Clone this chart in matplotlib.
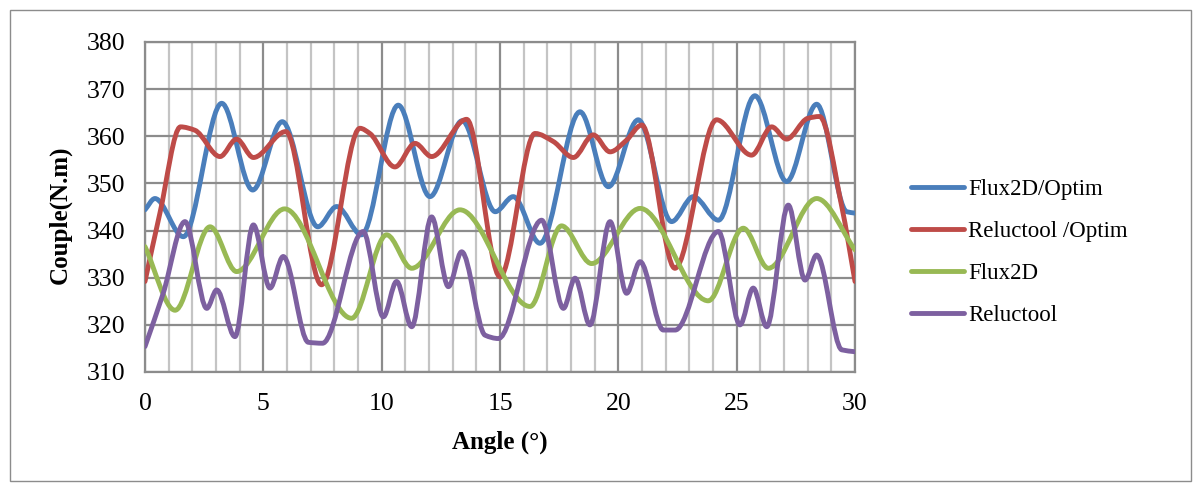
"""
Couple en fonction de l'angle : comparaison Flux2D / Reluctool.
"""
import numpy as np
import matplotlib
matplotlib.use('Agg')
from matplotlib import pyplot as plt
from matplotlib.path import Path
from matplotlib.patches import PathPatch, Rectangle
from matplotlib.lines import Line2D
from matplotlib.ticker import MultipleLocator

# Données (angle en degrés, couple en N.m)
flux_opt_x = [0, 0.42, 1.62, 3.24, 4.55, 5.8, 7.3, 8.1, 9.15, 10.7, 12.04, 13.4, 14.8, 15.56,
              16.69, 18.38, 19.58, 20.84, 22.25, 23.17, 24.23, 25.77, 27.11, 28.38, 29.65, 30]
flux_opt_y = [344.4, 346.8, 338.7, 367.0, 348.6, 363.1, 340.8, 345.1, 339.1, 366.6, 347.2, 363.3,
              344.0, 347.2, 337.3, 365.2, 349.3, 363.5, 341.9, 347.2, 342.2, 368.6, 350.4, 366.8,
              344.0, 343.7]

reluc_opt_x = [0, 0.63, 1.5, 2.1, 3.17, 3.87, 4.58, 5.95, 7.46, 9.08, 9.5, 10.56, 11.41, 12.11,
               13.59, 15.0, 16.48, 17.25, 18.1, 18.94, 19.65, 20.35, 20.99, 22.39, 24.15, 25.63,
               26.48, 27.11, 28.0, 28.5, 29.44, 30]
reluc_opt_y = [329.2, 343.7, 362.0, 361.3, 355.7, 359.4, 355.5, 361.0, 328.5, 361.7, 360.6, 353.5,
               358.5, 355.7, 363.6, 330.2, 360.6, 358.9, 355.5, 360.3, 356.7, 359.2, 362.4, 332.0,
               363.5, 356.0, 362.0, 359.4, 363.8, 364.2, 345.1, 329.2]

flux_x = [0, 1.27, 2.75, 3.87, 5.9, 8.73, 10.21, 11.27, 13.31, 16.27, 17.6, 18.87, 20.92, 23.8,
          25.28, 26.34, 28.38, 30]
flux_y = [336.6, 323.1, 340.8, 331.3, 344.6, 321.4, 339.1, 332.0, 344.4, 323.9, 341.0, 333.0,
          344.7, 325.1, 340.5, 332.0, 346.8, 335.9]

reluc_x = [0, 0.77, 1.69, 2.61, 3.03, 3.8, 4.58, 5.28, 5.84, 6.9, 7.5, 9.22, 10.07, 10.63, 11.27,
           12.11, 12.82, 13.38, 14.37, 14.93, 16.76, 17.68, 18.17, 18.8, 19.65, 20.35, 20.92,
           21.9, 22.4, 24.23, 25.14, 25.7, 26.27, 27.18, 27.89, 28.38, 29.44, 30]
reluc_y = [315.4, 326.7, 341.9, 323.5, 327.4, 317.5, 341.2, 327.8, 334.5, 316.3, 316.1, 339.8,
           321.7, 329.2, 319.6, 342.9, 328.1, 335.5, 317.8, 317.1, 342.2, 323.5, 329.9, 320.0,
           341.9, 326.7, 333.4, 318.9, 318.9, 339.8, 320.0, 327.8, 319.6, 345.4, 329.5, 334.8,
           314.7, 314.3]

series = [
    ('Flux2D/Optim', flux_opt_x, flux_opt_y, '#4a7ebb'),
    ('Reluctool /Optim', reluc_opt_x, reluc_opt_y, '#be4b48'),
    ('Flux2D', flux_x, flux_y, '#98b954'),
    ('Reluctool', reluc_x, reluc_y, '#7d60a0'),
]


def smooth_path(x, y):
    """
    Courbe lissée (Bézier cubique, tangentes monotones) passant par les points.
    """
    x = np.asarray(x, float)
    y = np.asarray(y, float)
    h = np.diff(x)
    d = np.diff(y) / h
    m = np.zeros_like(y)
    for i in range(1, len(y) - 1):
        if d[i - 1] * d[i] > 0:
            w1 = 2 * h[i] + h[i - 1]
            w2 = h[i] + 2 * h[i - 1]
            m[i] = (w1 + w2) / (w1 / d[i - 1] + w2 / d[i])
    m[0] = d[0]
    m[-1] = d[-1]
    verts = [(x[0], y[0])]
    codes = [Path.MOVETO]
    for i in range(len(x) - 1):
        verts.append((x[i] + h[i] / 3, y[i] + m[i] * h[i] / 3))
        verts.append((x[i + 1] - h[i] / 3, y[i + 1] - m[i + 1] * h[i] / 3))
        verts.append((x[i + 1], y[i + 1]))
        codes += [Path.CURVE4] * 3
    return Path(verts, codes)


plt.rcParams['font.family'] = ['Liberation Serif', 'DejaVu Serif']

fig = plt.figure(figsize=(12.04, 4.91), dpi=100)
ax = fig.add_axes([145 / 1204, 1 - 372 / 491, 710 / 1204, 330 / 491])

# cadre extérieur
fig.patches.append(Rectangle((10 / 1204, 10 / 491), 1181 / 1204, 471 / 491,
                             transform=fig.transFigure, fill=False,
                             edgecolor='#8c8c8c', lw=1))

ax.set_xlim(0, 30)
ax.set_ylim(310, 380)
ax.xaxis.set_major_locator(MultipleLocator(5))
ax.xaxis.set_minor_locator(MultipleLocator(1))
ax.yaxis.set_major_locator(MultipleLocator(10))
ax.grid(which='minor', axis='x', color='#c4c4c4', lw=1.6)
ax.grid(which='major', axis='both', color='#8c8c8c', lw=1.6)
ax.set_axisbelow(True)
for side in ['top', 'right', 'left', 'bottom']:
    ax.spines[side].set_color('#8c8c8c')
    ax.spines[side].set_linewidth(1.6)
ax.tick_params(which='both', length=0, labelsize=18.5, pad=14)
ax.tick_params(axis='x', pad=15)

handles = []
for label, xs, ys, color in series:
    patch = PathPatch(smooth_path(xs, ys), fill=False, edgecolor=color, lw=3.5,
                      capstyle='round', joinstyle='round', zorder=3)
    ax.add_patch(patch)
    handles.append(Line2D([], [], color=color, lw=3.5, solid_capstyle='round'))

ax.set_xlabel('Angle (°)', fontsize=18, fontweight='bold', labelpad=11)
ax.set_ylabel('Couple(N.m)', fontsize=18, fontweight='bold')
ax.yaxis.set_label_coords(-0.103, 0.476)

fig.legend(handles, [s[0] for s in series], loc='center left',
           bbox_to_anchor=(911 / 1204, 1 - 252.5 / 491), frameon=False,
           fontsize=16.5, handlelength=2.3, handletextpad=0.2, labelspacing=0.92,
           borderpad=0, borderaxespad=0)

fig.savefig('out.png', dpi=100)
